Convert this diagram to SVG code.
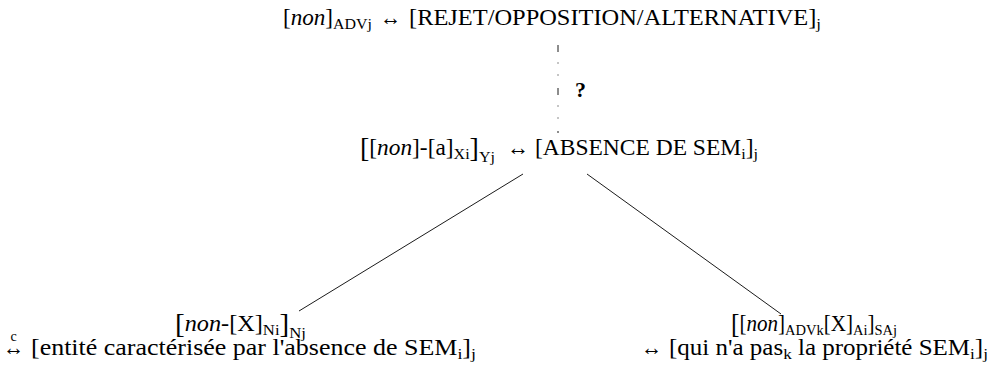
<svg xmlns="http://www.w3.org/2000/svg" width="993" height="374" viewBox="0 0 993 374">
<style>
text{font-family:"Liberation Serif","DejaVu Serif",serif;font-size:22.5px;fill:#000}
.it{font-style:italic}
.s{font-size:15.5px}
.big{font-size:27px}
.q{font-weight:bold;font-size:22px}
.c{font-size:14px}
line{stroke:#000;stroke-width:0.9}
.dd{stroke-dasharray:7 10.5 1 11 1 12.5}
</style>
<rect width="993" height="374" fill="#fff"/>
<g id="connectors">
<line class="dd" x1="558" y1="45" x2="558" y2="133"/>
<text class="q" x="575" y="97">?</text>
<line x1="523" y1="174" x2="299" y2="311"/>
<line x1="587" y1="174" x2="781" y2="314"/>
</g>
<g id="node-top">
<text x="283" y="25" textLength="89" lengthAdjust="spacingAndGlyphs">[<tspan class="it">non</tspan>]<tspan class="s" y="29">ADVj</tspan></text>
<text x="380" y="25" textLength="21" lengthAdjust="spacingAndGlyphs">↔</text>
<text x="409" y="25" textLength="412" lengthAdjust="spacingAndGlyphs">[REJET/OPPOSITION/ALTERNATIVE]<tspan class="s" y="29">j</tspan></text>
</g>
<g id="node-middle">
<text x="360" y="155" textLength="135" lengthAdjust="spacingAndGlyphs"><tspan class="big" y="157">[</tspan><tspan y="155">[</tspan><tspan class="it">non</tspan>]-[a]<tspan class="s" y="159">Xi</tspan><tspan class="big" y="157">]</tspan><tspan class="s" y="162">Yj</tspan></text>
<text x="507" y="155" textLength="22" lengthAdjust="spacingAndGlyphs">↔</text>
<text x="535" y="155" textLength="223" lengthAdjust="spacingAndGlyphs">[ABSENCE DE SEM<tspan class="s" y="159">i</tspan><tspan y="155">]</tspan><tspan class="s" y="159">j</tspan></text>
</g>
<g id="node-left">
<text x="175" y="331" textLength="131" lengthAdjust="spacingAndGlyphs"><tspan class="big" y="333">[</tspan><tspan class="it" y="331">non-</tspan><tspan>[X]</tspan><tspan class="s" y="335">Ni</tspan><tspan class="big" y="333">]</tspan><tspan class="s" y="338">Nj</tspan></text>
<text class="c" x="13.5" y="341" text-anchor="middle">c</text>
<text x="3" y="355" textLength="21" lengthAdjust="spacingAndGlyphs">↔</text>
<text x="31" y="355" textLength="445" lengthAdjust="spacingAndGlyphs">[entité caractérisée par l'absence de SEM<tspan class="s" y="359">i</tspan><tspan y="355">]</tspan><tspan class="s" y="359">j</tspan></text>
</g>
<g id="node-right">
<text x="731" y="331" textLength="166" lengthAdjust="spacingAndGlyphs"><tspan class="big" y="333">[</tspan><tspan y="331">[</tspan><tspan class="it">non</tspan>]<tspan class="s" y="335">ADVk</tspan><tspan y="331">[X]</tspan><tspan class="s" y="335">Ai</tspan><tspan y="331">]</tspan><tspan class="s" y="335">SAj</tspan></text>
<text x="641" y="355" textLength="21" lengthAdjust="spacingAndGlyphs">↔</text>
<text x="669" y="355" textLength="319" lengthAdjust="spacingAndGlyphs">[qui n'a pas<tspan class="s" y="359">k</tspan><tspan y="355"> la propriété SEM</tspan><tspan class="s" y="359">i</tspan><tspan y="355">]</tspan><tspan class="s" y="359">j</tspan></text>
</g>
</svg>
